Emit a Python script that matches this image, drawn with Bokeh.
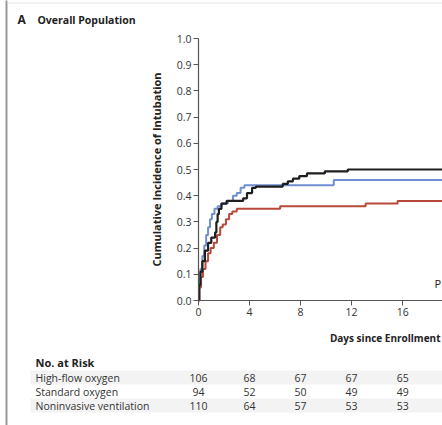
from bokeh.plotting import figure
from bokeh.models import (Range1d, FixedTicker, PrintfTickFormatter, Label, BoxAnnotation,
                          LinearAxis)
from bokeh.embed import file_html
from bokeh.resources import INLINE

# ---- data ----
hf_t = [0, 0.08, 0.2, 0.35, 0.55, 0.75, 0.95, 1.2, 1.45, 1.7, 1.9, 2.15, 2.4, 2.65, 3.0, 6.4, 13.1, 15.6, 19.2]
hf_y = [0, 0.05, 0.09, 0.12, 0.15, 0.18, 0.20, 0.22, 0.25, 0.28, 0.29, 0.31, 0.33, 0.34, 0.35, 0.36, 0.37, 0.38, 0.38]

so_t = [0, 0.05, 0.15, 0.3, 0.45, 0.6, 0.75, 0.9, 1.05, 1.25, 1.5, 1.8, 2.3, 2.7, 3.0, 3.3, 3.6, 10.6, 19.2]
so_y = [0, 0.06, 0.12, 0.17, 0.21, 0.25, 0.28, 0.31, 0.33, 0.35, 0.36, 0.37, 0.38, 0.40, 0.41, 0.43, 0.44, 0.46, 0.46]

niv_t = [0, 0.05, 0.15, 0.3, 0.5, 0.75, 1.0, 1.3, 1.4, 1.5, 1.6, 1.8, 2.2, 3.5, 3.8, 4.2, 4.5, 6.6, 7.0, 7.4, 7.9, 8.5, 9.9, 11.7, 19.2]
niv_y = [0, 0.06, 0.11, 0.15, 0.19, 0.22, 0.24, 0.26, 0.30, 0.33, 0.35, 0.37, 0.38, 0.39, 0.41, 0.43, 0.435, 0.445, 0.455, 0.465, 0.475, 0.485, 0.493, 0.50, 0.50]

y_ticks = [0.0, 0.1, 0.2, 0.3, 0.4, 0.5, 0.6, 0.7, 0.8, 0.9, 1.0]
x_ticks = [0, 4, 8, 12, 16, 20]

risk_days = [0, 4, 8, 12, 16]
risk_groups = ["High-flow oxygen", "Standard oxygen", "Noninvasive ventilation"]
risk_hf = [106, 68, 67, 67, 65]
risk_so = [94, 52, 50, 49, 49]
risk_niv = [110, 64, 57, 53, 53]

FONT = "Open Sans"
W, H = 442, 425
FL, FT, FB = 198, 38, 300  # axis origin / top px
PXD = 12.76                # px per day
PYU = (FB - FT) / 1.0      # px per unit


def dx(px):
    return (px - FL) / PXD


def dy(py):
    return (FB - py) / PYU


p = figure(width=W, height=H, x_range=Range1d(dx(0), dx(W)), y_range=Range1d(dy(H), dy(0)),
           min_border_left=0, min_border_right=0, min_border_top=0, min_border_bottom=0,
           x_axis_location=None, y_axis_location=None,
           output_backend="svg", toolbar_location=None)
p.outline_line_color = None
p.grid.visible = False
p.background_fill_color = "white"
p.border_fill_color = "white"

xax = LinearAxis(fixed_location=0, bounds=(0, 30))
yax = LinearAxis(fixed_location=0, bounds=(0, 1))
p.add_layout(xax, "below")
p.add_layout(yax, "left")

for ax in (xax, yax):
    ax.axis_line_color = "#555555"
    ax.axis_line_width = 1.2
    ax.major_tick_line_color = "#555555"
    ax.major_tick_out = 5
    ax.major_tick_in = 0
    ax.minor_tick_line_color = None
    ax.major_label_text_font = FONT
    ax.major_label_text_font_size = "10.5px"
    ax.major_label_text_color = "#333333"
    ax.major_label_standoff = 2

yax.ticker = FixedTicker(ticks=y_ticks)
yax.formatter = PrintfTickFormatter(format="%.1f")
xax.ticker = FixedTicker(ticks=x_ticks)
yax.axis_label = "Cumulative Incidence of Intubation"
yax.axis_label_text_font = FONT
yax.axis_label_text_font_size = "11px"
yax.axis_label_text_font_style = "bold"
yax.axis_label_text_color = "#222222"
yax.axis_label_standoff = 10

# page frame lines
p.add_layout(BoxAnnotation(left=dx(5), right=dx(7), bottom=dy(H + 5), top=dy(-5),
                           fill_color="#9a9a9a", fill_alpha=1, line_color=None, level="underlay"))
p.add_layout(BoxAnnotation(left=dx(7), right=dx(W + 5), bottom=dy(3), top=dy(2),
                           fill_color="#e6e6e6", fill_alpha=1, line_color=None, level="underlay"))

p.step(hf_t, hf_y, mode="after", line_color="#b8493a", line_width=2)
p.step(so_t, so_y, mode="after", line_color="#6f8fd0", line_width=2)
p.step(niv_t, niv_y, mode="after", line_color="#1e1e1e", line_width=2.2)

# title
p.add_layout(Label(x=dx(17), y=dy(19), text="A", text_font=FONT, text_font_size="12px",
                   text_font_style="bold", text_baseline="middle", text_color="#222222"))
p.add_layout(Label(x=dx(37), y=dy(19), text="Overall Population", text_font=FONT,
                   text_font_size="10.5px", text_font_style="bold", text_baseline="middle",
                   text_color="#222222"))

# x axis label (chart continues beyond the right edge)
p.add_layout(Label(x=dx(440), y=dy(337), text="Days since Enrollment", text_font=FONT,
                   text_font_size="10px", text_font_style="bold", text_baseline="middle",
                   text_align="right", text_color="#222222"))
p.add_layout(Label(x=dx(434), y=dy(283), text="P", text_font=FONT,
                   text_font_size="11px", text_baseline="middle", text_color="#222222"))

# risk table
row_py = [377, 391, 405]
for i, py in enumerate(row_py):
    if i != 1:
        p.add_layout(BoxAnnotation(left=dx(30), right=dx(W + 5), bottom=dy(py + 7), top=dy(py - 7),
                                   fill_color="#f3f3f3", fill_alpha=1, line_color=None,
                                   level="underlay"))
p.add_layout(Label(x=dx(35), y=dy(362), text="No. at Risk", text_font=FONT, text_font_size="11px",
                   text_font_style="bold", text_baseline="middle", text_color="#222222"))
for grp, vals, py in zip(risk_groups, [risk_hf, risk_so, risk_niv], row_py):
    p.add_layout(Label(x=dx(35), y=dy(py), text=grp, text_font=FONT, text_font_size="10.5px",
                       text_baseline="middle", text_color="#333333"))
    for d, v in zip(risk_days, vals):
        p.add_layout(Label(x=d, y=dy(py), text=str(v), text_font=FONT, text_font_size="10.5px",
                           text_baseline="middle", text_align="center", text_color="#333333"))

open("out.html", "w").write(file_html(p, INLINE))
